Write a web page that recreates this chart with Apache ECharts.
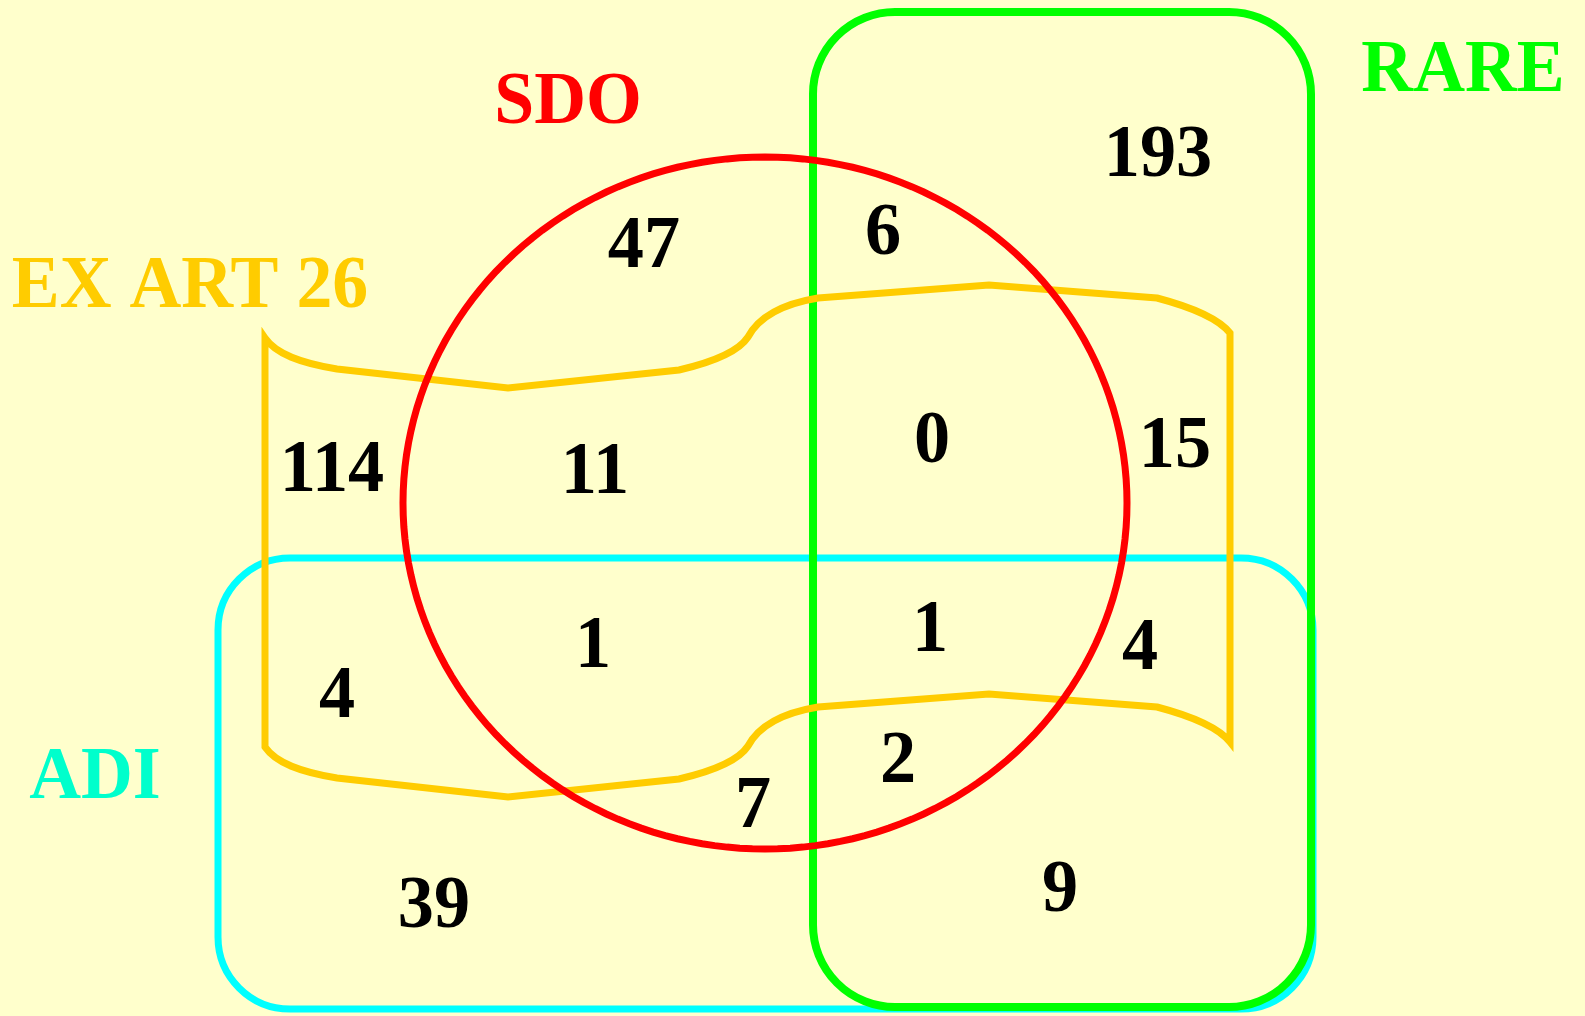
<!DOCTYPE html>
<html>
<head>
<meta charset="utf-8">
<script src="https://cdn.jsdelivr.net/npm/echarts@6/dist/echarts.min.js"></script>
<style>
  html, body { margin: 0; padding: 0; background: #FFFFCC; }
  #chart { width: 1585px; height: 1016px; }
</style>
</head>
<body>
<div id="chart"></div>
<script>
// set names / colours
const setNames = ['SDO', 'RARE', 'EX ART 26', 'ADI'];
const setColors = ['#FF0000', '#00FF00', '#FFCC00', '#00FFCC'];
const lineColors = ['#FF0000', '#00FF00', '#FFCC00', '#00FFFF'];
const setLabelX = [568, 1463, 190, 95];
const setLabelY = [104, 72, 288, 779];

// counts per region
const regionCounts = [193, 47, 6, 114, 11, 0, 15, 4, 1, 1, 4, 2, 7, 39, 9];
const regionX = [1158, 644, 883, 332, 595, 932, 1175, 337, 593, 930, 1140, 898, 753, 434, 1060];
const regionY = [157, 248, 235, 472, 474, 443, 448, 698, 648, 632, 650, 763, 808, 908, 892];

// outlines (canvas units, y down)
const sdoEllipse = [765, 503, 362, 346];          // cx, cy, rx, ry
const rareRect = [813, 12, 498, 995, 82];          // x, y, w, h, r
const adiRect = [218, 558, 1095, 451, 72];
const bannerShift = 409;
// top edge of the EX ART 26 banner: [cmd, pts...]
const bannerTop = [
  ['M', 265, 338],
  ['C', 276, 354, 300, 363, 337, 369],
  ['L', 508, 388],
  ['L', 679, 370],
  ['Q', 735, 357, 748, 337],
  ['Q', 764, 307, 818, 298],
  ['L', 989, 285],
  ['L', 1157, 298],
  ['Q', 1214, 313, 1230, 333]
];

const chart = echarts.init(document.getElementById('chart'));

function bannerPath(api) {
  const p = (x, y) => api.coord([x, y]);
  const seg = [];
  bannerTop.forEach(s => {
    const pts = [];
    for (let i = 1; i < s.length; i += 2) pts.push(p(s[i], s[i + 1]).join(' '));
    seg.push(s[0] + ' ' + pts.join(' '));
  });
  // right side down, then bottom edge back to the left (top edge shifted)
  const last = bannerTop[bannerTop.length - 1];
  seg.push('L ' + p(last[last.length - 2], last[last.length - 1] + bannerShift).join(' '));
  for (let k = bannerTop.length - 1; k > 0; k--) {
    const s = bannerTop[k];
    const prev = bannerTop[k - 1];
    const end = p(prev[prev.length - 2], prev[prev.length - 1] + bannerShift).join(' ');
    if (s[0] === 'L') {
      seg.push('L ' + end);
    } else if (s[0] === 'Q') {
      seg.push('Q ' + p(s[1], s[2] + bannerShift).join(' ') + ' ' + end);
    } else if (s[0] === 'C') {
      seg.push('C ' + p(s[3], s[4] + bannerShift).join(' ') + ' ' +
        p(s[1], s[2] + bannerShift).join(' ') + ' ' + end);
    }
  }
  seg.push('Z');
  return seg.join(' ');
}

function roundRect(api, r, color, w) {
  const a = api.coord([r[0], r[1]]);
  const b = api.coord([r[0] + r[2], r[1] + r[3]]);
  return {
    type: 'rect',
    shape: { x: a[0], y: a[1], width: b[0] - a[0], height: b[1] - a[1], r: r[4] },
    style: { fill: 'none', stroke: color, lineWidth: w }
  };
}

const shapeOrder = ['ADI', 'RARE', 'EX ART 26', 'SDO'];

chart.setOption({
  backgroundColor: '#FFFFCC',
  animation: false,
  grid: { left: 0, top: 0, width: 1585, height: 1016 },
  xAxis: { type: 'value', min: 0, max: 1585, show: false },
  yAxis: { type: 'value', min: 0, max: 1016, inverse: true, show: false },
  series: [
    {
      type: 'custom',
      coordinateSystem: 'cartesian2d',
      data: shapeOrder.map((n, i) => [i, 0]),
      renderItem: function (params, api) {
        const name = shapeOrder[params.dataIndex];
        const color = lineColors[setNames.indexOf(name)];
        if (name === 'ADI') return roundRect(api, adiRect, color, 7);
        if (name === 'RARE') return roundRect(api, rareRect, color, 8);
        if (name === 'EX ART 26') {
          return {
            type: 'path',
            shape: { pathData: bannerPath(api) },
            style: { fill: 'none', stroke: color, lineWidth: 7, lineJoin: 'miter', miterLimit: 10 }
          };
        }
        const pts = [];
        for (let t = 0; t < 360; t += 2) {
          const r = t * Math.PI / 180;
          pts.push(api.coord([sdoEllipse[0] + sdoEllipse[2] * Math.cos(r),
                              sdoEllipse[1] + sdoEllipse[3] * Math.sin(r)]));
        }
        return {
          type: 'polygon',
          shape: { points: pts },
          style: { fill: 'none', stroke: color, lineWidth: 7 }
        };
      }
    },
    {
      // set titles
      type: 'custom',
      coordinateSystem: 'cartesian2d',
      data: setNames.map((n, i) => [setLabelX[i], setLabelY[i], n]),
      renderItem: function (params, api) {
        const c = api.coord([api.value(0), api.value(1)]);
        return {
          type: 'text', x: c[0], y: c[1], scaleX: 0.97,
          style: {
            text: setNames[params.dataIndex],
            fill: setColors[params.dataIndex],
            font: 'bold 74px "Liberation Serif", "Times New Roman", serif',
            align: 'center', verticalAlign: 'middle'
          }
        };
      }
    },
    {
      // region counts
      type: 'custom',
      coordinateSystem: 'cartesian2d',
      data: regionCounts.map((v, i) => [regionX[i], regionY[i], v]),
      renderItem: function (params, api) {
        const c = api.coord([api.value(0), api.value(1)]);
        return {
          type: 'text', x: c[0], y: c[1], scaleX: 0.99,
          style: {
            text: String(api.value(2)),
            fill: '#000000',
            font: 'bold 73px "Liberation Serif", "Times New Roman", serif',
            align: 'center', verticalAlign: 'middle'
          }
        };
      }
    }
  ]
});
</script>
</body>
</html>
